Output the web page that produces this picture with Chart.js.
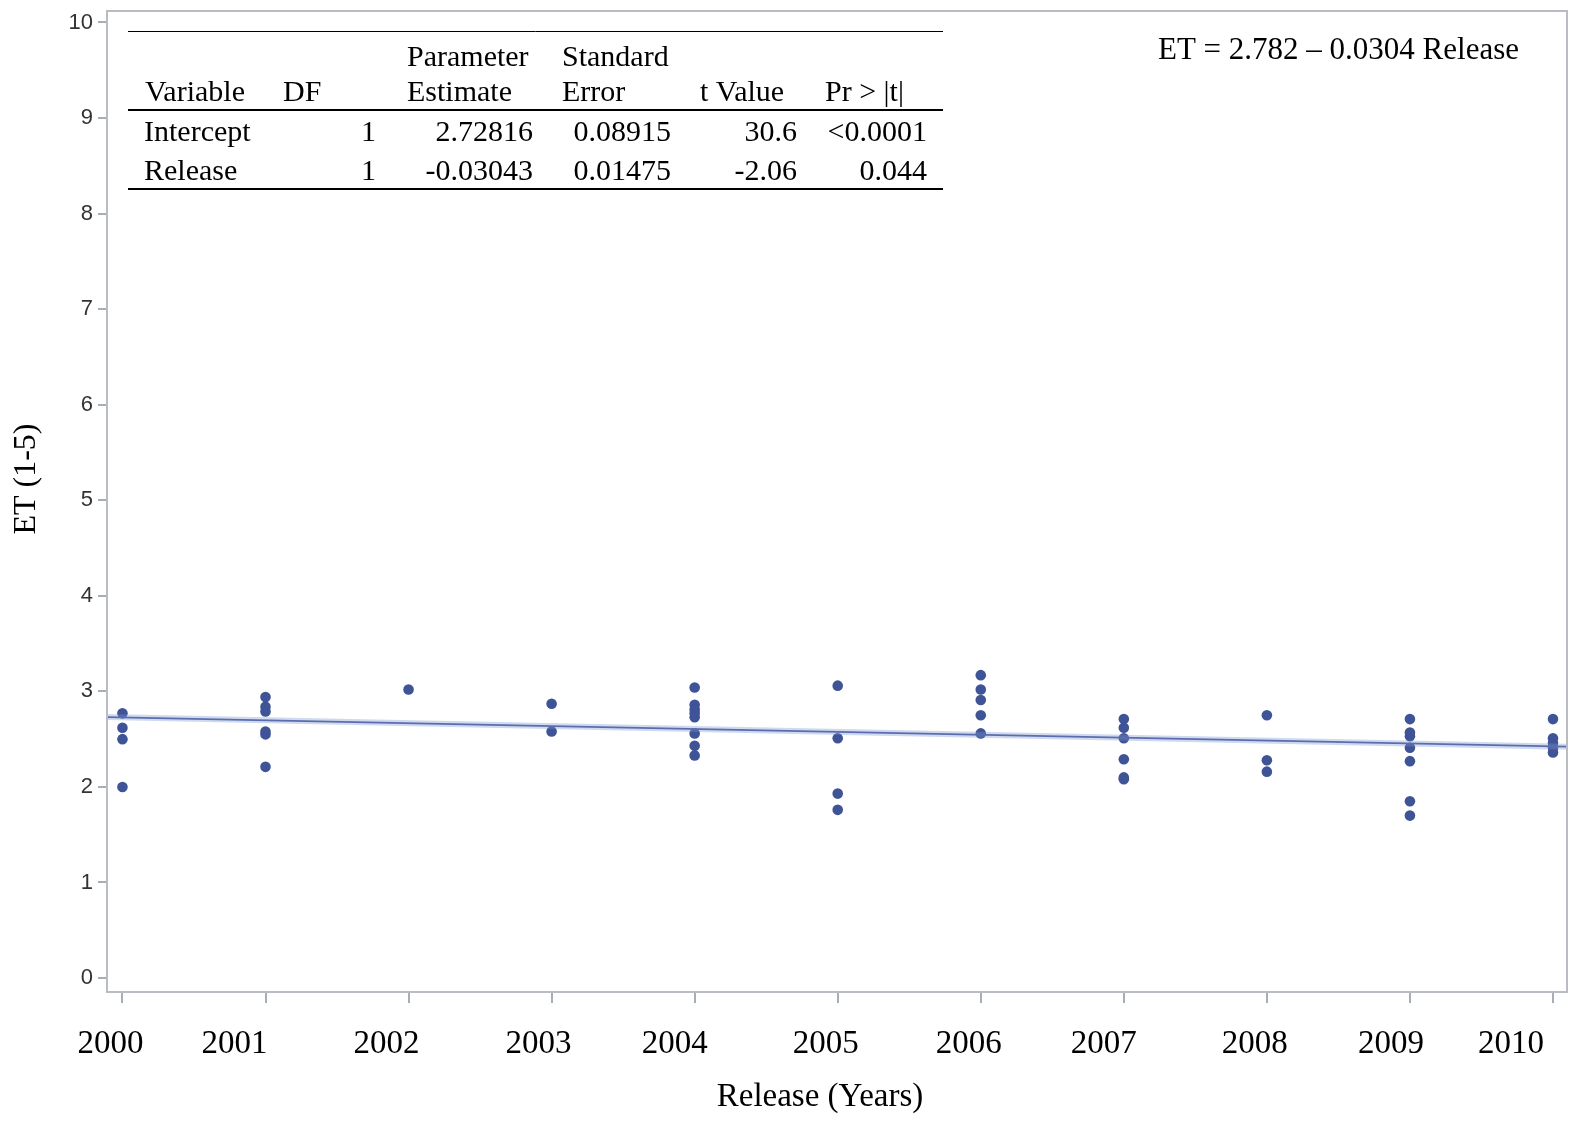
<!DOCTYPE html>
<html lang="en">
<head>
    <meta charset="UTF-8">
    <title>ET by Release Year</title>
    <style>
        body, html {
            margin: 0;
            background: #ffffff;
        }
        #wrap {
            width: 1573px;
            height: 1123px;
        }
    </style>
</head>
<body>
    <div id="wrap">
        <canvas id="etChart" width="1573" height="1123"></canvas>
    </div>
    <script src="https://cdn.jsdelivr.net/npm/chart.js"></script>
    <script>
        // Release year of each observation and its ET score
        const releaseYears = [
            2000, 2000, 2000, 2000,
            2001, 2001, 2001, 2001, 2001, 2001,
            2002,
            2003, 2003,
            2004, 2004, 2004, 2004, 2004, 2004, 2004, 2004,
            2005, 2005, 2005, 2005,
            2006, 2006, 2006, 2006, 2006,
            2007, 2007, 2007, 2007, 2007, 2007,
            2008, 2008, 2008,
            2009, 2009, 2009, 2009, 2009, 2009, 2009,
            2010, 2010, 2010, 2010, 2010
        ];
        const etScores = [
            2.77, 2.62, 2.50, 2.00,
            2.94, 2.84, 2.79, 2.58, 2.55, 2.21,
            3.02,
            2.87, 2.58,
            3.04, 2.86, 2.81, 2.77, 2.73, 2.56, 2.43, 2.33,
            3.06, 2.51, 1.93, 1.76,
            3.17, 3.02, 2.91, 2.75, 2.56,
            2.71, 2.62, 2.51, 2.29, 2.10, 2.08,
            2.75, 2.28, 2.16,
            2.71, 2.57, 2.53, 2.41, 2.27, 1.85, 1.70,
            2.71, 2.51, 2.46, 2.41, 2.36
        ];

        // tick values
        const yearTicks = [2000, 2001, 2002, 2003, 2004, 2005, 2006, 2007, 2008, 2009, 2010];
        const etTicks = [0, 1, 2, 3, 4, 5, 6, 7, 8, 9, 10];

        // regression estimates (Release counted from 2000)
        const fitIntercept = 2.72816;
        const fitSlope = -0.03043;

        // parameter estimates table
        const tableHead1 = ['', '', 'Parameter', 'Standard', '', ''];
        const tableHead2 = ['Variable', 'DF', 'Estimate', 'Error', 't Value', 'Pr > |t|'];
        const tableRows = [
            ['Intercept', '1', '2.72816', '0.08915', '30.6', '<0.0001'],
            ['Release', '1', '-0.03043', '0.01475', '-2.06', '0.044']
        ];
        const equationText = 'ET = 2.782 \u2013 0.0304 Release';

        const xMin = 1999.892, xMax = 2010.098;
        const yMin = -0.146, yMax = 10.12;

        const SERIF = '"Liberation Serif", "Times New Roman", serif';
        const SANS = '"Liberation Sans", Arial, sans-serif';

        const points = releaseYears.map((yr, i) => ({ x: yr, y: etScores[i] }));
        const fitAt = x => fitIntercept + fitSlope * (x - 2000);
        const fitLine = [
            { x: xMin, y: fitAt(xMin) },
            { x: xMax, y: fitAt(xMax) }
        ];

        // year labels sit a little left of their tick marks
        const yearLabelNudge = [-12, -31, -22, -13, -20, -12, -12, -20, -12, -19, -42];

        // frame, year labels, axis titles, equation and estimates table
        const overlayPlugin = {
            id: 'overlay',
            afterDraw(chart) {
                const { ctx, chartArea: a } = chart;
                const xs = chart.scales.x;
                ctx.save();
                ctx.strokeStyle = '#b9bdc3';
                ctx.lineWidth = 2;
                ctx.strokeRect(a.left, a.top, a.right - a.left, a.bottom - a.top);

                ctx.fillStyle = '#000';
                ctx.textBaseline = 'middle';

                ctx.font = '33px ' + SERIF;
                ctx.textAlign = 'center';
                yearTicks.forEach((yr, i) => {
                    ctx.fillText(String(yr), xs.getPixelForValue(yr) + yearLabelNudge[i], 1044);
                });
                ctx.fillText('Release (Years)', 820, 1097);

                ctx.save();
                ctx.translate(27, 479);
                ctx.rotate(-Math.PI / 2);
                ctx.font = '32px ' + SERIF;
                ctx.fillText('ET (1-5)', 0, 0);
                ctx.restore();

                ctx.font = '31px ' + SERIF;
                ctx.textAlign = 'left';
                ctx.fillText(equationText, 1158, 51);

                // table rules
                ctx.strokeStyle = '#000';
                ctx.lineWidth = 1;
                ctx.beginPath(); ctx.moveTo(128, 31.5); ctx.lineTo(943, 31.5); ctx.stroke();
                ctx.lineWidth = 2;
                ctx.beginPath(); ctx.moveTo(128, 110); ctx.lineTo(943, 110); ctx.stroke();
                ctx.beginPath(); ctx.moveTo(128, 189); ctx.lineTo(943, 189); ctx.stroke();

                ctx.font = '30px ' + SERIF;
                const headLeft = [145, 283, 407, 562, 700, 825];
                tableHead1.forEach((t, i) => ctx.fillText(t, headLeft[i], 58));
                tableHead2.forEach((t, i) => ctx.fillText(t, headLeft[i], 93));

                const rowY = [133, 172];
                const colRight = [null, 376, 533, 671, 797, 927];
                tableRows.forEach((row, r) => {
                    row.forEach((t, i) => {
                        if (i === 0) {
                            ctx.textAlign = 'left';
                            ctx.fillText(t, 144, rowY[r]);
                        } else {
                            ctx.textAlign = 'right';
                            ctx.fillText(t, colRight[i], rowY[r]);
                        }
                    });
                });
                ctx.restore();
            }
        };

        new Chart(document.getElementById('etChart').getContext('2d'), {
            type: 'scatter',
            data: {
                datasets: [
                    {
                        type: 'line',
                        label: 'Fit halo',
                        data: fitLine,
                        borderColor: 'rgba(120, 145, 205, 0.35)',
                        borderWidth: 6,
                        pointRadius: 0,
                        fill: false
                    },
                    {
                        type: 'line',
                        label: 'Fit',
                        data: fitLine,
                        borderColor: '#4a5b9f',
                        borderWidth: 1.8,
                        pointRadius: 0,
                        fill: false
                    },
                    {
                        label: 'ET',
                        data: points,
                        backgroundColor: '#3f5497',
                        borderColor: '#3f5497',
                        borderWidth: 0,
                        pointRadius: 5.3
                    }
                ]
            },
            options: {
                responsive: false,
                animation: false,
                layout: { padding: { top: 11, right: 6, left: 0, bottom: 0 } },
                plugins: {
                    legend: { display: false },
                    tooltip: { enabled: false }
                },
                scales: {
                    x: {
                        type: 'linear',
                        min: xMin,
                        max: xMax,
                        afterBuildTicks: s => { s.ticks = yearTicks.map(v => ({ value: v })); },
                        afterFit: s => {
                            s.height = 131;
                            s.paddingLeft = 0;
                            s.paddingRight = 0;
                        },
                        border: { display: false },
                        grid: {
                            drawOnChartArea: false,
                            tickLength: 11,
                            color: '#a9aeb5',
                            lineWidth: 2
                        },
                        ticks: { display: false }
                    },
                    y: {
                        min: yMin,
                        max: yMax,
                        afterBuildTicks: s => { s.ticks = etTicks.map(v => ({ value: v })); },
                        afterFit: s => {
                            s.width = 107;
                            s.paddingTop = 0;
                            s.paddingBottom = 0;
                        },
                        border: { display: false },
                        grid: {
                            drawOnChartArea: false,
                            tickLength: 9,
                            color: '#a9aeb5',
                            lineWidth: 2
                        },
                        ticks: {
                            padding: 5,
                            color: '#333',
                            font: { family: SANS, size: 22 },
                            callback: v => String(v)
                        }
                    }
                }
            },
            plugins: [overlayPlugin]
        });
    </script>
</body>
</html>
